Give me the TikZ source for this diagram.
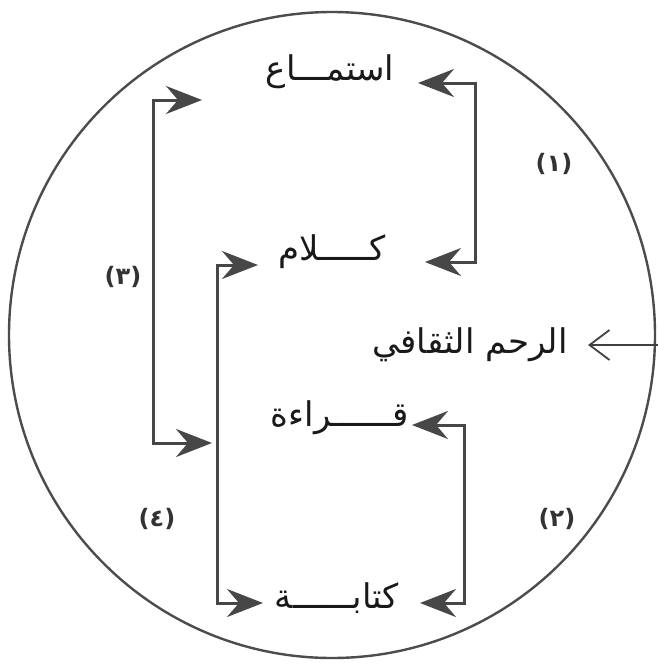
\documentclass[tikz,border=0pt]{standalone}
\usepackage{fontspec}
\usetikzlibrary{arrows.meta}
\newfontfamily\arabicfont[Script=Arabic]{DejaVu Sans}
\TeXXeTstate=1

\begin{document}
\begin{tikzpicture}[x=0.5pt,y=-0.5pt,>={Stealth[length=18pt,width=14pt,inset=6pt]},
    word/.style={font=\arabicfont\fontsize{17}{20}\selectfont,text=black!90,inner sep=1pt},
    num/.style={font=\arabicfont\bfseries\fontsize{12}{14}\selectfont,text=black!80},
    link/.style={draw=black!72,line width=1.5pt,<->},
    feed/.style={draw=black!75,line width=0.9pt,-{Straight Barb[length=10pt,width=15pt]}}]
  \useasboundingbox (0,0) rectangle (658,669);
  \draw[black!70,line width=1.2pt] (332,335) circle[radius=161.5pt];

  % the four skills
  \node[word] (listen) at (330,72) {\beginR استمـــاع\endR};
  \node[word] (speak) at (332,252) {\beginR كـــــلام\endR};
  \node[word] (read) at (340,418) {\beginR قــــــراءة\endR};
  \node[word] (write) at (337,598) {\beginR كتابــــــة\endR};
  \node[word] (culture) at (470,345) {\beginR الرحم الثقافي\endR};

  \node[num] (n1) at (554,164) {(١)};
  \node[num] (n2) at (557,519) {(٢)};
  \node[num] (n3) at (123,277) {(٣)};
  \node[num] (n4) at (157,519) {(٤)};

  % corners of the brackets
  \coordinate (c1) at (475,170);
  \coordinate (c2) at (464,510);
  \coordinate (c3) at (153,270);
  \coordinate (c4) at (217,430);
  \coordinate (src) at (670,345);

  \draw[link] (418,83) -| (c1) |- (425,262);
  \draw[link] (412,425) -| (c2) |- (420,603);
  \draw[link] (202,100) -| (c3) |- (212,443);
  \draw[link] (258,265) -| (c4) |- (263,603);
  \draw[feed] (src) -- (588,345);
\end{tikzpicture}
\end{document}
